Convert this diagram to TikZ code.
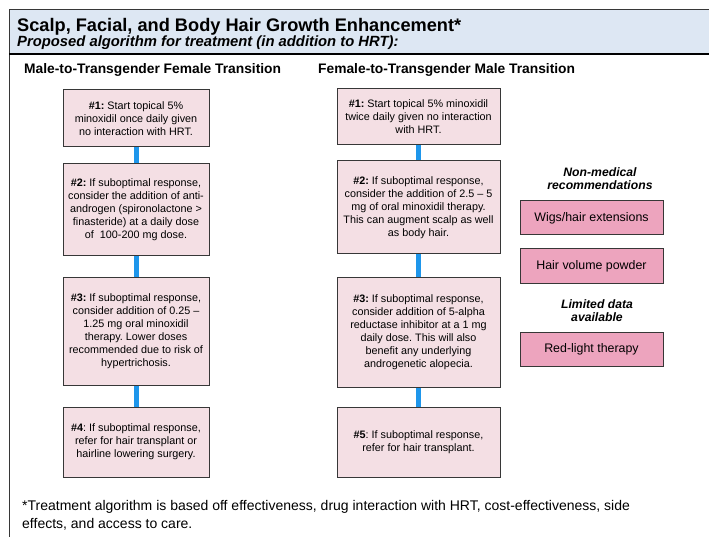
\documentclass[tikz,border=0pt]{standalone}
\usepackage{fontspec}
\setmainfont{Liberation Sans}
\usepackage{xcolor}
\usepackage{tikz}
\usetikzlibrary{positioning}
\definecolor{headerblue}{RGB}{221, 231, 243}
\definecolor{steppink}{RGB}{244, 223, 228}
\definecolor{recopink}{RGB}{237, 164, 190}
\definecolor{linkblue}{RGB}{30, 150, 235}
\definecolor{framegray}{RGB}{55, 55, 55}
\frenchspacing

\begin{document}
\begin{tikzpicture}[
        x=1pt, y=-1pt,
        stepbox/.style={rectangle, draw=framegray, line width=1pt, fill=steppink, align=center, inner sep=2pt, font=\fontsize{10.8}{13}\selectfont},
        mtfbox/.style={stepbox, minimum width=146pt},
        ftmbox/.style={stepbox, minimum width=163pt},
        recobox/.style={rectangle, draw=framegray, line width=1pt, fill=recopink, minimum width=143pt, minimum height=34pt, align=center, font=\fontsize{12.4}{14}\selectfont},
        colhead/.style={anchor=base west, font=\bfseries\fontsize{13.8}{15}\selectfont},
        sidehead/.style={align=center, font=\bfseries\itshape\fontsize{12.2}{13}\selectfont},
        link/.style={linkblue, line width=5pt},
    ]
        \useasboundingbox (0,0) rectangle (709,537);

        % header band and frame
        \fill[headerblue] (9,10) rectangle (709,54);
        \draw[framegray, line width=1pt] (9,537) -- (9,10) -- (709,10);
        \draw[black, line width=1.3pt] (9,54) -- (709,54);
        \node[anchor=base west, inner sep=0pt, font=\bfseries\fontsize{18.2}{20}\selectfont] (title) at (17,32) {Scalp, Facial, and Body Hair Growth Enhancement*};
        \node[anchor=base west, inner sep=0pt, font=\bfseries\itshape\fontsize{14.8}{16}\selectfont] (subtitle) at (17,47) {Proposed algorithm for treatment (in addition to HRT):};

        % column headings
        \node[colhead, inner sep=0pt] (mtfhead) at (24,74) {Male-to-Transgender Female Transition};
        \node[colhead, inner sep=0pt] (ftmhead) at (318,74) {Female-to-Transgender Male Transition};

        % male-to-female steps
        \node[mtfbox, minimum height=57pt] (M1) at (136,118.5) {\textbf{\#1:} Start topical 5\%\\minoxidil once daily given\\no interaction with HRT.};
        \node[mtfbox, minimum height=92pt, below=16pt of M1] (M2) {\textbf{\#2:} If suboptimal response,\\consider the addition of anti-\\androgen (spironolactone >\\finasteride) at a daily dose\\of~ 100-200 mg dose.};
        \node[mtfbox, minimum height=108pt, below=20pt of M2] (M3) {\textbf{\#3:} If suboptimal response,\\consider addition of 0.25 --\\1.25 mg oral minoxidil\\therapy. Lower doses\\recommended due to risk of\\hypertrichosis.};
        \node[mtfbox, minimum height=70pt, below=21pt of M3] (M4) {\textbf{\#4}: If suboptimal response,\\refer for hair transplant or\\hairline lowering surgery.};

        % female-to-male steps
        \node[ftmbox, minimum height=56pt] (F1) at (418.5,117) {\textbf{\#1:} Start topical 5\% minoxidil\\twice daily given no interaction\\with HRT.};
        \node[ftmbox, minimum height=93pt, below=15pt of F1] (F2) {\textbf{\#2:} If suboptimal response,\\consider the addition of 2.5 -- 5\\mg of oral minoxidil therapy.\\This can augment scalp as well\\as body hair.};
        \node[ftmbox, minimum height=110pt, below=22pt of F2] (F3) {\textbf{\#3:} If suboptimal response,\\consider addition of 5-alpha\\reductase inhibitor at a 1 mg\\daily dose. This will also\\benefit any underlying\\androgenetic alopecia.};
        \node[ftmbox, minimum height=70pt, below=19pt of F3] (F5) {\textbf{\#5}: If suboptimal response,\\refer for hair transplant.};

        \draw[link] (M1) -- (M2);
        \draw[link] (M2) -- (M3);
        \draw[link] (M3) -- (M4);
        \draw[link] (F1) -- (F2);
        \draw[link] (F2) -- (F3);
        \draw[link] (F3) -- (F5);

        % side recommendations
        \node[sidehead] (nonmed) at (600,179) {Non-medical\\recommendations};
        \node[recobox] (wigs) at (591.5,218) {Wigs/hair extensions};
        \node[recobox, below=13pt of wigs] (powder) {Hair volume powder};
        \node[sidehead] (limited) at (597,311) {Limited data\\available};
        \node[recobox] (redlight) at (591.5,349.5) {Red-light therapy};

        % footnote
        \node[anchor=north west, align=left, inner sep=0pt, font=\fontsize{14}{18}\selectfont] (note) at (22,500) {*Treatment algorithm is based off effectiveness, drug interaction with HRT, cost-effectiveness, side\\effects, and access to care.};
    \end{tikzpicture}
\end{document}
